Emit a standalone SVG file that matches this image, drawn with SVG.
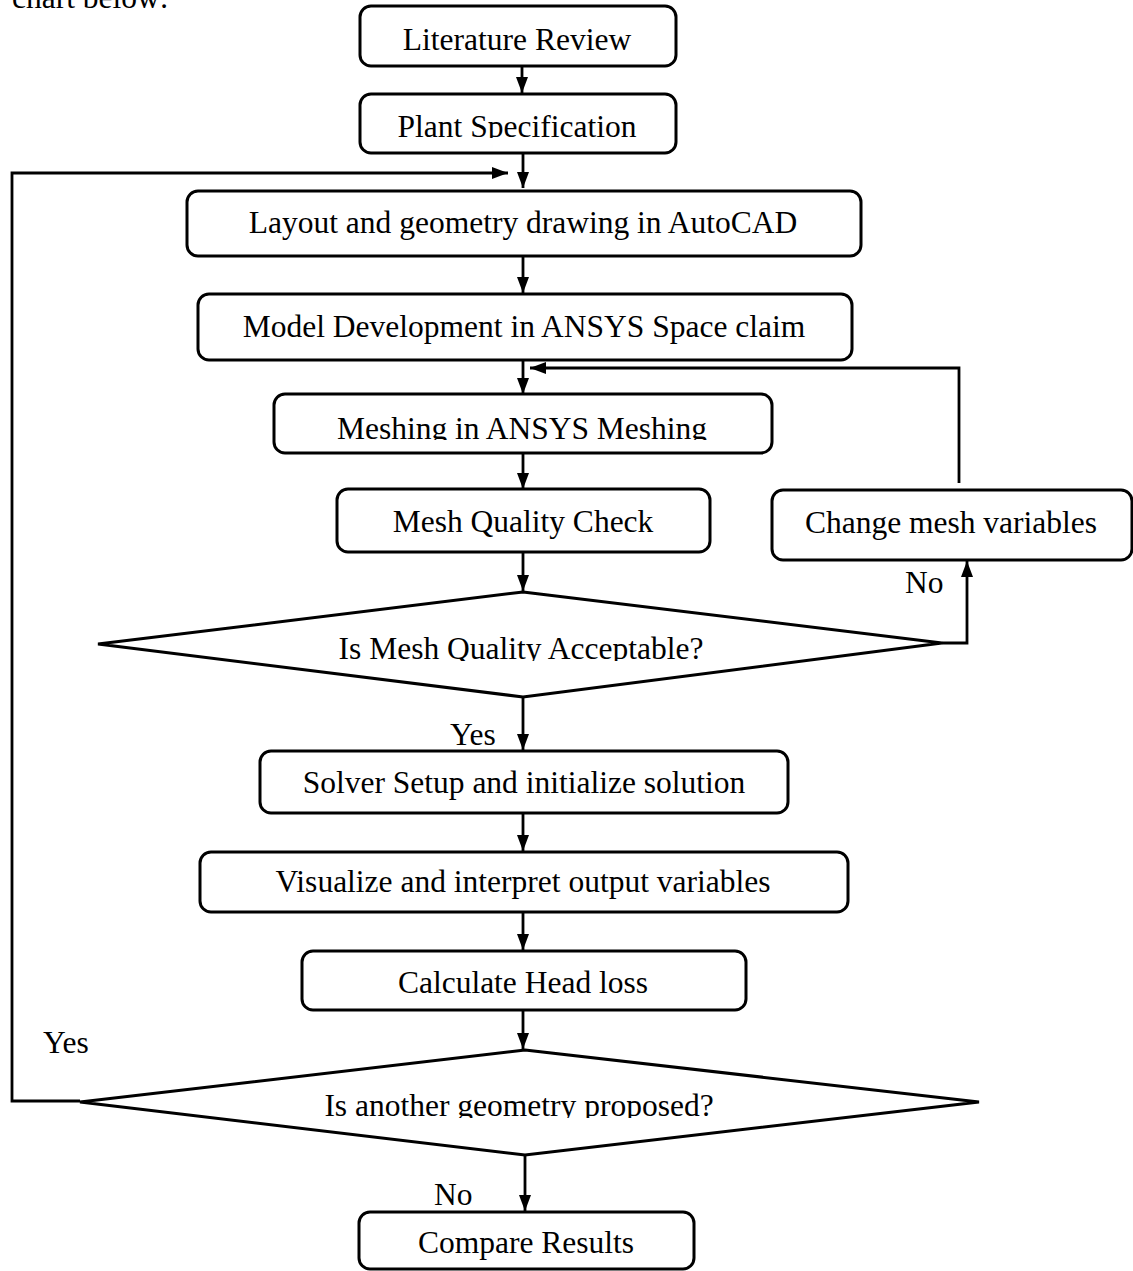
<svg xmlns="http://www.w3.org/2000/svg" width="1133" height="1271" viewBox="0 0 1133 1271">
<style>
.box{fill:#fff;stroke:#000;stroke-width:3}
.dia{fill:#fff;stroke:#000;stroke-width:3;stroke-linejoin:miter}
.t{font-family:"Liberation Serif","Times New Roman",serif;font-size:31.5px;fill:#000;text-anchor:middle}
.l{font-family:"Liberation Serif","Times New Roman",serif;font-size:31.5px;fill:#000}
.c{fill:none;stroke:#000;stroke-width:2.8}
</style>
<defs>
<marker id="ah" markerUnits="userSpaceOnUse" viewBox="0 0 16 12" markerWidth="16" markerHeight="12" refX="16" refY="6" orient="auto">
<path d="M0,0 L16,6 L0,12 z" fill="#000"/>
</marker>
<clipPath id="cpPlant"><rect x="0" y="0" width="1133" height="138"/></clipPath>
<clipPath id="cpMesh"><rect x="0" y="0" width="1133" height="440"/></clipPath>
<clipPath id="cpQual"><rect x="0" y="0" width="1133" height="661"/></clipPath>
<clipPath id="cpGeo"><rect x="0" y="0" width="1133" height="1118"/></clipPath>
</defs>
<rect width="1133" height="1271" fill="#fff"/>
<text class="l" x="12" y="8">chart below:</text>

<g id="connectors">
<path class="c" d="M522,66 V93" marker-end="url(#ah)"/>
<path class="c" d="M523,153 V188" marker-end="url(#ah)"/>
<path class="c" d="M80,1101 H12 V173 H508" marker-end="url(#ah)"/>
<path class="c" d="M523,257 V293" marker-end="url(#ah)"/>
<path class="c" d="M523,360 V394" marker-end="url(#ah)"/>
<path class="c" d="M959,483 V368 H530" marker-end="url(#ah)"/>
<path class="c" d="M523,453 V489" marker-end="url(#ah)"/>
<path class="c" d="M523,552 V591" marker-end="url(#ah)"/>
<path class="c" d="M942,643 H967 V561" marker-end="url(#ah)"/>
<path class="c" d="M523,697 V750" marker-end="url(#ah)"/>
<path class="c" d="M523,813 V851" marker-end="url(#ah)"/>
<path class="c" d="M523,912 V950" marker-end="url(#ah)"/>
<path class="c" d="M523,1010 V1049" marker-end="url(#ah)"/>
<path class="c" d="M525,1155 V1211" marker-end="url(#ah)"/>
<text class="l" x="905" y="593">No</text>
<text class="l" x="450" y="745">Yes</text>
<text class="l" x="43" y="1053">Yes</text>
<text class="l" x="434" y="1205">No</text>
</g>

<g id="n1"><rect class="box" x="360" y="6" width="316" height="60" rx="11"/><text class="t" x="517" y="50">Literature Review</text></g>
<g id="n2"><rect class="box" x="360" y="94" width="316" height="59" rx="11"/><text class="t" x="517" y="137" clip-path="url(#cpPlant)">Plant Specification</text></g>
<g id="n3"><rect class="box" x="187" y="191" width="674" height="65" rx="11"/><text class="t" x="523" y="233">Layout and geometry drawing in AutoCAD</text></g>
<g id="n4"><rect class="box" x="198" y="294" width="654" height="66" rx="11"/><text class="t" x="524" y="337">Model Development in ANSYS Space claim</text></g>
<g id="n5"><rect class="box" x="274" y="394" width="498" height="59" rx="11"/><text class="t" x="522" y="439" clip-path="url(#cpMesh)">Meshing in ANSYS Meshing</text></g>
<g id="n6"><rect class="box" x="337" y="489" width="373" height="63" rx="11"/><text class="t" x="523" y="532">Mesh Quality Check</text></g>
<g id="n7"><rect class="box" x="772" y="490" width="360" height="70" rx="11"/><text class="t" x="951" y="533">Change mesh variables</text></g>
<g id="n8"><polygon class="dia" points="523,592 942,643 523,697 98,644"/><text class="t" x="521" y="659" clip-path="url(#cpQual)">Is Mesh Quality Acceptable?</text></g>
<g id="n9"><rect class="box" x="260" y="751" width="528" height="62" rx="11"/><text class="t" x="524" y="793">Solver Setup and initialize solution</text></g>
<g id="n10"><rect class="box" x="200" y="852" width="648" height="60" rx="11"/><text class="t" x="523" y="892">Visualize and interpret output variables</text></g>
<g id="n11"><rect class="box" x="302" y="951" width="444" height="59" rx="11"/><text class="t" x="523" y="993">Calculate Head loss</text></g>
<g id="n12"><polygon class="dia" points="525,1050 979,1102 525,1155 80,1102"/><text class="t" x="519" y="1116" clip-path="url(#cpGeo)">Is another geometry proposed?</text></g>
<g id="n13"><rect class="box" x="359" y="1212" width="335" height="57" rx="11"/><text class="t" x="526" y="1253">Compare Results</text></g>
</svg>
